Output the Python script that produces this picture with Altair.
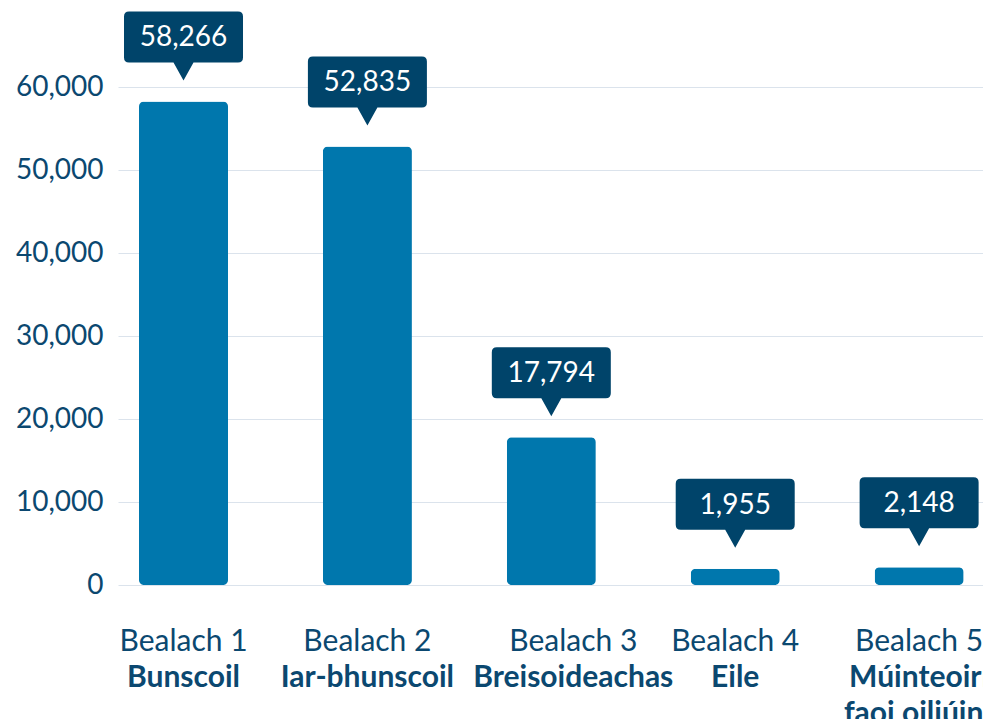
import altair as alt
import pandas as pd

categories = ["Bealach 1", "Bealach 2", "Bealach 3", "Bealach 4", "Bealach 5"]
names = ["Bunscoil", "Iar-bhunscoil", "Breisoideachas", "Eile", "Múinteoirí\nfaoi oiliúint"]
values = [58266, 52835, 17794, 1955, 2148]
y_ticks = [0, 10000, 20000, 30000, 40000, 50000, 60000]

df = pd.DataFrame({"cat": categories, "name": names, "value": values})

FONT = "Lato"
TEXT = "#0b4870"
NAVY = "#00446a"
BAR = "#0077ad"
W, H = 865, 498

callout = (
    "M -0.545 -0.90 L 0.545 -0.90 Q 0.595 -0.90 0.595 -0.85 L 0.595 -0.44 "
    "Q 0.595 -0.39 0.545 -0.39 L 0.10 -0.39 L 0 -0.21 L -0.10 -0.39 "
    "L -0.545 -0.39 Q -0.595 -0.39 -0.595 -0.44 L -0.595 -0.85 "
    "Q -0.595 -0.90 -0.545 -0.90 Z"
)

x = alt.X("cat:N", sort=categories, axis=None,
          scale=alt.Scale(paddingInner=0.516, paddingOuter=0.1098, align=0.52))
y = alt.Y("value:Q", title=None,
          scale=alt.Scale(domain=[0, 60000], nice=False),
          axis=alt.Axis(values=y_ticks, format=",.0f", labelFont=FONT, labelFontSize=28,
                        labelColor=TEXT, labelPadding=15, domain=False, ticks=False,
                        grid=True, gridColor="#dbe3ec", gridWidth=1))

base = alt.Chart(df)

bars = base.mark_bar(cornerRadius=5, color=BAR).encode(x=x, y=y)

boxes = base.mark_point(shape=callout, size=40000, filled=True, color=NAVY,
                        opacity=1, strokeWidth=0).encode(x=x, y=y)

box_text = base.mark_text(font=FONT, fontSize=28, color="white", dy=-63,
                          baseline="middle").encode(
    x=x, y=y, text=alt.Text("value:Q", format=",.0f"))

not3 = alt.datum.cat != "Bealach 3"
is3 = alt.datum.cat == "Bealach 3"

lab1_a = base.transform_filter(not3).mark_text(
    font=FONT, fontSize=30, color=TEXT, baseline="alphabetic").encode(
    x=x, y=alt.value(H + 66), text="cat:N")
lab1_b = base.transform_filter(is3).mark_text(
    font=FONT, fontSize=30, color=TEXT, baseline="alphabetic", dx=22).encode(
    x=x, y=alt.value(H + 66), text="cat:N")
lab2_a = base.transform_filter(not3).mark_text(
    font=FONT, fontSize=30, fontWeight="bold", color=TEXT, baseline="alphabetic",
    lineBreak="\n", lineHeight=36).encode(
    x=x, y=alt.value(H + 102), text="name:N")
lab2_b = base.transform_filter(is3).mark_text(
    font=FONT, fontSize=30, fontWeight="bold", color=TEXT, baseline="alphabetic",
    lineBreak="\n", lineHeight=36, dx=22).encode(
    x=x, y=alt.value(H + 102), text="name:N")

chart = alt.layer(bars, boxes, box_text, lab1_a, lab1_b, lab2_a, lab2_b).properties(
    width=W, height=H,
    autosize=alt.AutoSizeParams(type="none"),
    padding={"left": 110, "top": 79, "right": 0, "bottom": 134},
).configure_view(stroke=None)

chart.save("out.html", embed_options={"renderer": "svg", "actions": False})
